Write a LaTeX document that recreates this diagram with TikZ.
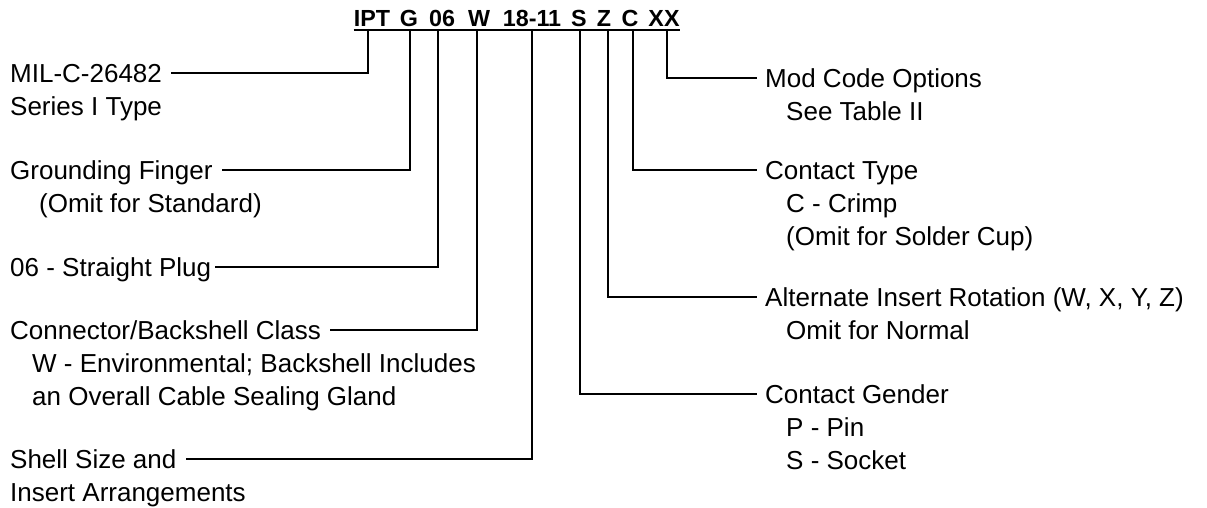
\documentclass[tikz,border=0pt]{standalone}
\usepackage{fontspec}
\setmainfont{Liberation Sans}
\usetikzlibrary{calc}

\begin{document}
\begin{tikzpicture}[x=1pt, y=-1pt,
    lbl/.style={inner sep=0pt, anchor=base west, font=\fontsize{26}{33}\selectfont},
    code/.style={inner sep=0pt, anchor=base, font=\fontsize{23.3}{28}\selectfont\bfseries},
    lead/.style={line width=2pt}]
    \useasboundingbox (0,0) rectangle (1207,508);
    % Part number
    \node[code] (ipt)  at (372,27) {IPT};
    \node[code] (g)    at (409,27) {G};
    \node[code] (plg)  at (442,27) {06};
    \node[code] (w)    at (479,27) {W};
    \node[code] (size) at (532,27) {18-11};
    \node[code] (s)    at (579,27) {S};
    \node[code] (z)    at (604,27) {Z};
    \node[code] (c)    at (630,27) {C};
    \node[code] (xx)   at (664,27) {XX};
    \draw[line width=2pt] ($(ipt.base west)+(0,3)$) -- ($(xx.base east)+(0,3)$);
    % Tap points under the code
    \coordinate (tipt)  at (368,29);
    \coordinate (tg)    at (410,29);
    \coordinate (tplg)  at (438,29);
    \coordinate (tw)    at (477,29);
    \coordinate (tsize) at (532,29);
    \coordinate (ts)    at (580,29);
    \coordinate (tz)    at (608,29);
    \coordinate (tc)    at (633,29);
    \coordinate (txx)   at (667,29);
    % Left labels
    \node[lbl] (mil) at (10,82.5) {MIL-C-26482};
    \node[lbl] (mil-sub) at (10,115.5) {Series I Type};
    \node[lbl] (gnd) at (10,179.5) {Grounding Finger};
    \node[lbl] (gnd-sub) at (39,212.5) {(Omit for Standard)};
    \node[lbl] (plug) at (10,276.5) {06 - Straight Plug};
    \node[lbl] (cls) at (10,339.5) {Connector/Backshell Class};
    \node[lbl] (cls-sub) at (32,372.5)
        {\begin{tabular}[t]{@{}l@{}}W - Environmental; Backshell Includes\\an Overall Cable Sealing Gland\end{tabular}};
    \node[lbl] (shell) at (10,468.5) {Shell Size and};
    \node[lbl] (shell-sub) at (10,501.5) {Insert Arrangements};
    % Right labels
    \node[lbl] (mod) at (765,87.5) {Mod Code Options};
    \node[lbl] (mod-sub) at (786,120.5) {See Table II};
    \node[lbl] (ctype) at (765,179.5) {Contact Type};
    \node[lbl] (ctype-sub) at (786,212.5)
        {\begin{tabular}[t]{@{}l@{}}C - Crimp\\(Omit for Solder Cup)\end{tabular}};
    \node[lbl] (rot) at (765,306.5) {Alternate Insert Rotation (W, X, Y, Z)};
    \node[lbl] (rot-sub) at (786,339.5) {Omit for Normal};
    \node[lbl] (gen) at (765,403.5) {Contact Gender};
    \node[lbl] (gen-sub) at (786,436)
        {\begin{tabular}[t]{@{}l@{}}P - Pin\\S - Socket\end{tabular}};
    % Leaders
    \draw[lead] (tipt)  |- ($(mil.base east)+(9,-9.5)$);
    \draw[lead] (tg)    |- ($(gnd.base east)+(9,-9.5)$);
    \draw[lead] (tplg)  |- ($(plug.base east)+(4,-9.5)$);
    \draw[lead] (tw)    |- ($(cls.base east)+(9,-9.5)$);
    \draw[lead] (tsize) |- ($(shell.base east)+(9,-9.5)$);
    \draw[lead] (txx)   |- ($(mod.base west)+(-8,-9.5)$);
    \draw[lead] (tc)    |- ($(ctype.base west)+(-8,-9.5)$);
    \draw[lead] (tz)    |- ($(rot.base west)+(-8,-9.5)$);
    \draw[lead] (ts)    |- ($(gen.base west)+(-8,-9.5)$);
\end{tikzpicture}
\end{document}
